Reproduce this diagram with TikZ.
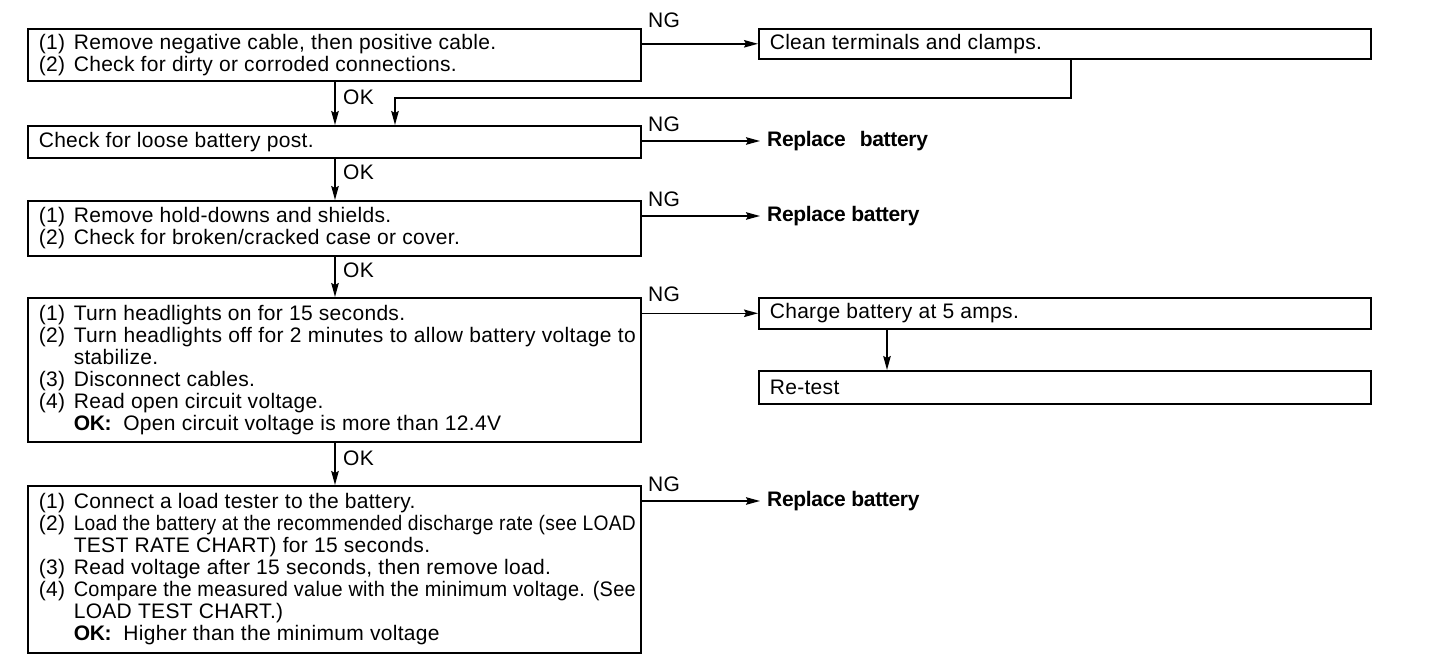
\documentclass[tikz,border=0pt]{standalone}
\usepackage{fontspec}
\setmainfont{Liberation Sans}[LetterSpace=1.5, BoldFeatures={LetterSpace=-1.5}]
\usepackage{graphicx}
\usetikzlibrary{arrows.meta}
\newsavebox\fitbox
\newcommand\fitto[1]{\sbox\fitbox{#1}\ifdim\wd\fitbox>562pt\relax\resizebox{562pt}{\ht\fitbox}{\usebox\fitbox}\else\makebox[562pt][s]{#1}\fi}
\newcommand\iline[2]{\noindent\makebox[35pt][l]{#1}#2\par}
\newcommand\fline[2]{\noindent\makebox[35pt][l]{#1}\fitto{#2}\par}
\newcommand\contline[1]{\noindent\hspace*{35pt}#1\par}
\newcommand\boxtext[1]{\hspace*{6pt}\parbox{597pt}{\baselineskip=22pt\parskip=0pt\lineskiplimit=-20pt #1}}
\newcommand\rtext[1]{\hspace*{10pt}\makebox[600pt][l]{#1}}
\begin{document}
\begin{tikzpicture}[x=1pt,y=-1pt, font=\fontsize{21}{22}\selectfont,
  box/.style={draw, line width=1.6pt, minimum width=613pt, inner sep=0pt, anchor=north west},
  rbox/.style={draw, line width=1.6pt, minimum width=612pt, inner sep=0pt, anchor=north west},
  arr/.style={line width=1.5pt, -{Stealth[length=14pt,width=7.5pt,inset=2pt]}},
  lbl/.style={inner sep=0pt, anchor=base west},
  rep/.style={anchor=west, inner xsep=7pt, inner ysep=0pt, font=\fontsize{21}{22}\selectfont\bfseries}]
\useasboundingbox (0,0) rectangle (1440,668);

% left boxes
\node[box, minimum height=52pt] (b1) at (27,28) {\boxtext{%
  \iline{(1)}{Remove negative cable, then positive cable.}%
  \iline{(2)}{Check for dirty or corroded connections.}}};
\node[box, minimum height=32pt] (b3) at (27,125) {\boxtext{%
  \noindent Check for loose battery post.\par}};
\node[box, minimum height=55pt] (b4) at (27,200) {\boxtext{%
  \iline{(1)}{Remove hold-downs and shields.}%
  \iline{(2)}{Check for broken/cracked case or cover.}}};
\node[box, minimum height=144pt] (b5) at (27,297) {\boxtext{%
  \iline{(1)}{Turn headlights on for 15 seconds.}%
  \fline{(2)}{Turn headlights off for 2 minutes to allow battery voltage to}%
  \contline{stabilize.}%
  \iline{(3)}{Disconnect cables.}%
  \iline{(4)}{Read open circuit voltage.}%
  \contline{\textbf{OK:}\hspace{12pt}Open circuit voltage is more than 12.4V}}};
\node[box, minimum height=167pt] (b6) at (27,485) {\boxtext{%
  \iline{(1)}{Connect a load tester to the battery.}%
  \fline{(2)}{Load the battery at the recommended discharge rate (see LOAD}%
  \contline{TEST RATE CHART) for 15 seconds.}%
  \iline{(3)}{Read voltage after 15 seconds, then remove load.}%
  \fline{(4)}{Compare the measured value with the minimum voltage. (See}%
  \contline{LOAD TEST CHART.)}%
  \contline{\textbf{OK:}\hspace{12pt}Higher than the minimum voltage}}};

% right boxes and results
\node[rbox, minimum height=30pt] (c1) at (758,28) {\rtext{Clean terminals and clamps.}};
\node[rbox, minimum height=31pt] (ch) at (758,297) {\rtext{Charge battery at 5 amps.}};
\node[rbox, minimum height=33pt] (rt) at (758,370) {\rtext{Re-test}};
\node[rep] (r3) at (760,141) {Replace\hspace{14pt}battery};
\node[rep] (r4) at (760,216) {Replace battery};
\node[rep] (r6) at (760,501) {Replace battery};

% NG labels
\node[lbl] (ng1) at (648,27.5) {NG};
\node[lbl] (ng3) at (648,131.5) {NG};
\node[lbl] (ng4) at (648,206.5) {NG};
\node[lbl] (ng5) at (648,301.5) {NG};
\node[lbl] (ng6) at (648,491.5) {NG};

% OK labels
\node[lbl] (ok1) at (343,104.5) {OK};
\node[lbl] (ok3) at (343,179.5) {OK};
\node[lbl] (ok4) at (343,277.5) {OK};
\node[lbl] (ok5) at (343,465.5) {OK};

% NG arrows
\draw[arr] (c1.west -| b1.east) -- (c1.west);
\draw[arr] (r3.west -| b3.east) -- (r3.west);
\draw[arr] (r4.west -| b4.east) -- (r4.west);
\draw[arr] (ch.west -| b5.east) -- (ch.west);
\draw[arr] (r6.west -| b6.east) -- (r6.west);

% OK arrows
\coordinate (ax) at (335,0);
\draw[arr] (ax |- b1.south) -- (ax |- b3.north);
\draw[arr] (ax |- b3.south) -- (ax |- b4.north);
\draw[arr] (ax |- b4.south) -- (ax |- b5.north);
\draw[arr] (ax |- b5.south) -- (ax |- b6.north);

% return from clean
\coordinate (rx) at (1071,0);
\coordinate (lx) at (395,98);
\draw[arr] (rx |- c1.south) |- (lx) -- (lx |- b3.north);

% charge to retest
\coordinate (cx) at (887,0);
\draw[arr] (cx |- ch.south) -- (cx |- rt.north);
\end{tikzpicture}
\end{document}
